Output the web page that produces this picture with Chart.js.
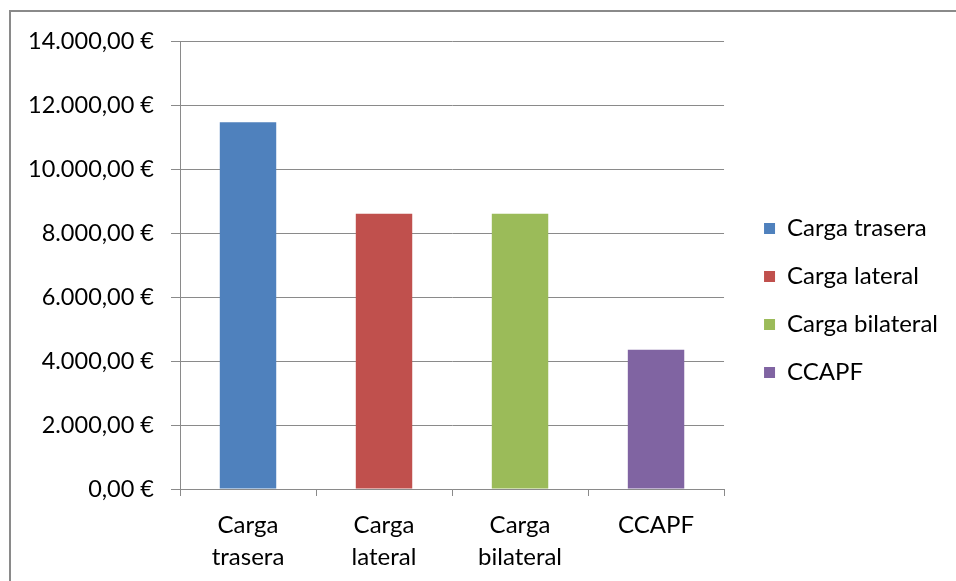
<!DOCTYPE html>
<html>
<head>
<meta charset="utf-8">
<script src="https://cdn.jsdelivr.net/npm/chart.js@4/dist/chart.umd.min.js"></script>
<style>
  html, body { margin: 0; padding: 0; background: #fff; }
  #wrap { position: relative; width: 956px; height: 581px; }
</style>
</head>
<body>
<div id="wrap"><canvas id="c" width="956" height="581"></canvas></div>
<script>
const categories = ['Carga trasera', 'Carga lateral', 'Carga bilateral', 'CCAPF'];
const tickLabels = [['Carga', 'trasera'], ['Carga', 'lateral'], ['Carga', 'bilateral'], ['CCAPF']];
const costs = [11460, 8600, 8600, 4350];
const colors = ['#4F81BD', '#C0504D', '#9BBB59', '#8064A2'];
const yTicks = [0, 2000, 4000, 6000, 8000, 10000, 12000, 14000];

const FONT = 'Lato';

function fmtEuro(v) {
  const s = Math.round(v).toString().replace(/\B(?=(\d{3})+(?!\d))/g, '.');
  return s + ',00 €';
}

const borderPlugin = {
  id: 'outerBorder',
  beforeDraw(chart) {
    const ctx = chart.ctx;
    ctx.save();
    ctx.strokeStyle = '#8a8a8a';
    ctx.lineWidth = 2;
    ctx.beginPath();
    ctx.moveTo(10, 581);
    ctx.lineTo(10, 11);
    ctx.lineTo(956, 11);
    ctx.stroke();
    ctx.restore();
  }
};

new Chart(document.getElementById('c'), {
  type: 'bar',
  data: {
    labels: tickLabels,
    datasets: [{
      data: costs,
      backgroundColor: colors,
      borderColor: colors,
      borderWidth: 0,
      categoryPercentage: 1.0,
      barPercentage: 0.415
    }]
  },
  options: {
    responsive: false,
    animation: false,
    devicePixelRatio: 1,
    layout: { padding: { left: 20, top: 20, right: 8, bottom: 0 } },
    plugins: {
      legend: {
        position: 'right',
        maxWidth: 300,
        labels: {
          font: { family: FONT, size: 24 },
          color: '#000',
          boxWidth: 11,
          boxHeight: 11,
          padding: 24,
          generateLabels: () => categories.map((c, i) => ({
            text: c, fillStyle: colors[i], strokeStyle: colors[i], lineWidth: 0, hidden: false, index: i
          }))
        }
      },
      tooltip: { enabled: false }
    },
    scales: {
      x: {
        offset: true,
        afterFit(s) { s.height = 92; },
        grid: { display: true, drawOnChartArea: false, drawTicks: true, tickLength: 7, color: '#8a8a8a', offset: true },
        border: { display: true, color: '#8a8a8a', width: 1 },
        ticks: {
          font: { family: FONT, size: 24, lineHeight: 1.3 },
          color: '#000',
          padding: 14,
          maxRotation: 0,
          autoSkip: false
        }
      },
      y: {
        min: 0,
        max: 14000,
        afterFit(s) { s.width = 160; s.paddingTop = 41; },
        afterBuildTicks(s) { s.ticks = yTicks.map(v => ({ value: v })); },
        grid: { color: '#8a8a8a', lineWidth: 1, tickLength: 9 },
        border: { display: true, color: '#8a8a8a', width: 1 },
        ticks: {
          font: { family: FONT, size: 23.5 },
          color: '#000',
          padding: 17,
          callback: v => fmtEuro(v)
        }
      },
      spacer: {
        type: 'linear',
        position: 'right',
        display: true,
        afterFit(s) { s.width = 16; },
        grid: { display: false },
        border: { display: false },
        ticks: { display: false }
      }
    }
  },
  plugins: [borderPlugin]
});
</script>
</body>
</html>
